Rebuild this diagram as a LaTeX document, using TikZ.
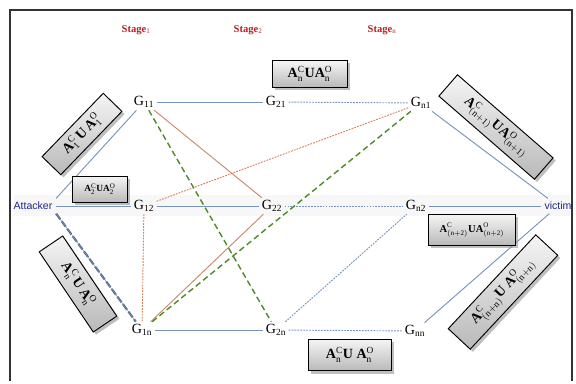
\documentclass[tikz,border=0pt]{standalone}
\usepackage{fontspec}
\setmainfont{Liberation Serif}
\setsansfont{Liberation Sans}
\usetikzlibrary{shadows}
\definecolor{lnblue}{RGB}{118,148,190}
\definecolor{lnbrown}{RGB}{200,138,108}
\definecolor{lnorange}{RGB}{214,128,88}
\definecolor{lngreen}{RGB}{78,138,40}
\definecolor{stagered}{RGB}{185,30,35}
\definecolor{endblue}{RGB}{30,40,140}
\newcommand{\asup}[2]{A$_{\mathrm{#1}}^{\mathrm{#2}}$}

\begin{document}
\begin{tikzpicture}[x=0.03cm,y=-0.03cm,
  gnode/.style={inner sep=2pt, font=\large},
  stage/.style={text=stagered, font=\small\bfseries},
  endnode/.style={text=endblue, font=\sffamily\small, inner sep=3pt},
  abox/.style={draw=black, thick, top color=gray!8, bottom color=gray!55,
    drop shadow={opacity=0.5}, inner sep=0pt, font=\bfseries},
  solidlink/.style={lnblue, thick},
  dotlink/.style={lnblue, thick, dash pattern=on 1.5pt off 1pt},
  brownlink/.style={lnbrown, thick},
  orangedot/.style={lnorange, thick, dash pattern=on 1.5pt off 1pt},
  greendash/.style={lngreen, line width=1.2pt, dash pattern=on 5pt off 3pt}]
\useasboundingbox (0,0) rectangle (576,383);
\fill[gray!6] (14,195) rectangle (570,216);
\draw[gray!40!black, line width=1.2pt] (10,381) -- (10,10) -- (572,10) -- (572,381);

\node[stage] (s1) at (136,30) {Stage$_{\mathrm{1}}$};
\node[stage] (s2) at (248,30) {Stage$_{\mathrm{2}}$};
\node[stage] (sn) at (382,30) {Stage$_{\mathrm{n}}$};

\node[endnode] (att) at (33,206) {Attacker};
\node[endnode] (vic) at (558,206) {victim};

\node[gnode] (g11) at (144,102) {G$_{\mathrm{11}}$};
\node[gnode] (g21) at (276,102) {G$_{\mathrm{21}}$};
\node[gnode] (gn1) at (421,103) {G$_{\mathrm{n1}}$};
\node[gnode] (g12) at (144,206) {G$_{\mathrm{12}}$};
\node[gnode] (g22) at (272,206) {G$_{\mathrm{22}}$};
\node[gnode] (gn2) at (416,206) {G$_{\mathrm{n2}}$};
\node[gnode] (g1n) at (142,330) {G$_{\mathrm{1n}}$};
\node[gnode] (g2n) at (276,330) {G$_{\mathrm{2n}}$};
\node[gnode] (gnn) at (415,331) {G$_{\mathrm{nn}}$};

\draw[solidlink] (att.north east) -- (g11);
\draw[solidlink] (att) -- (g12);
\draw[lnblue!70!black, line width=1.8pt, dash pattern=on 6pt off 2pt] (att.south east) -- (g1n);
\draw[lnblue, thin] (att.south east) -- (g1n);
\draw[solidlink] (g11) -- (g21);
\draw[dotlink] (g21) -- (gn1);
\draw[solidlink] (g12) -- (g22);
\draw[dotlink] (g22) -- (gn2);
\draw[solidlink] (g1n) -- (g2n);
\draw[dotlink] (g2n) -- (gnn);
\draw[dotlink] (g2n) -- (gn2);
\draw[solidlink] (gn1) -- (vic);
\draw[solidlink] (gn2) -- (vic);
\draw[solidlink] (gnn) -- (vic);
\draw[brownlink] (g11) -- (g22);
\draw[brownlink] (g1n) -- (g22);
\draw[orangedot] (g12) -- (gn1);
\draw[orangedot] (g12) -- (g1n);
\draw[greendash] (g11) -- (g2n);
\draw[greendash] (g1n) -- (gn1);

\node[abox, minimum width=2.25cm, minimum height=0.8cm, font=\bfseries\large] (b1) at (310,74) {\asup{n}{C}UA$_{\mathrm{n}}^{\mathrm{O}}$};
\node[abox, minimum width=1.65cm, minimum height=0.78cm, font=\bfseries\footnotesize] (b2) at (100,189) {\asup{2}{C}UA$_{\mathrm{2}}^{\mathrm{O}}$};
\node[abox, minimum width=2.6cm, minimum height=0.92cm, font=\bfseries\small] (b3) at (472,230) {\asup{(n+2)}{C}UA$_{\mathrm{(n+2)}}^{\mathrm{O}}$};
\node[abox, minimum width=2.5cm, minimum height=0.95cm, font=\bfseries\large] (b4) at (350,355) {\asup{n}{C}U A$_{\mathrm{n}}^{\mathrm{O}}$};
\node[abox, rotate=46, minimum width=2.64cm, minimum height=0.78cm, font=\bfseries\large] (r1) at (82,134) {\asup{1}{C}\,U\,A$_{\mathrm{1}}^{\mathrm{O}}$};
\node[abox, rotate=-56, minimum width=2.9cm, minimum height=0.85cm, font=\bfseries\large] (r2) at (78,284) {\asup{n}{C}\,U\,A$_{\mathrm{n}}^{\mathrm{O}}$};
\node[abox, rotate=-41, minimum width=3.8cm, minimum height=0.85cm, font=\bfseries\large] (r3) at (496,127) {\asup{(n+1)}{C}UA$_{\mathrm{(n+1)}}^{\mathrm{O}}$};
\node[abox, rotate=47, minimum width=3.85cm, minimum height=0.9cm, font=\bfseries\large] (r4) at (503,292) {\asup{(n+n)}{C}U A$_{\mathrm{(n+n)}}^{\mathrm{O}}$};
\end{tikzpicture}
\end{document}
